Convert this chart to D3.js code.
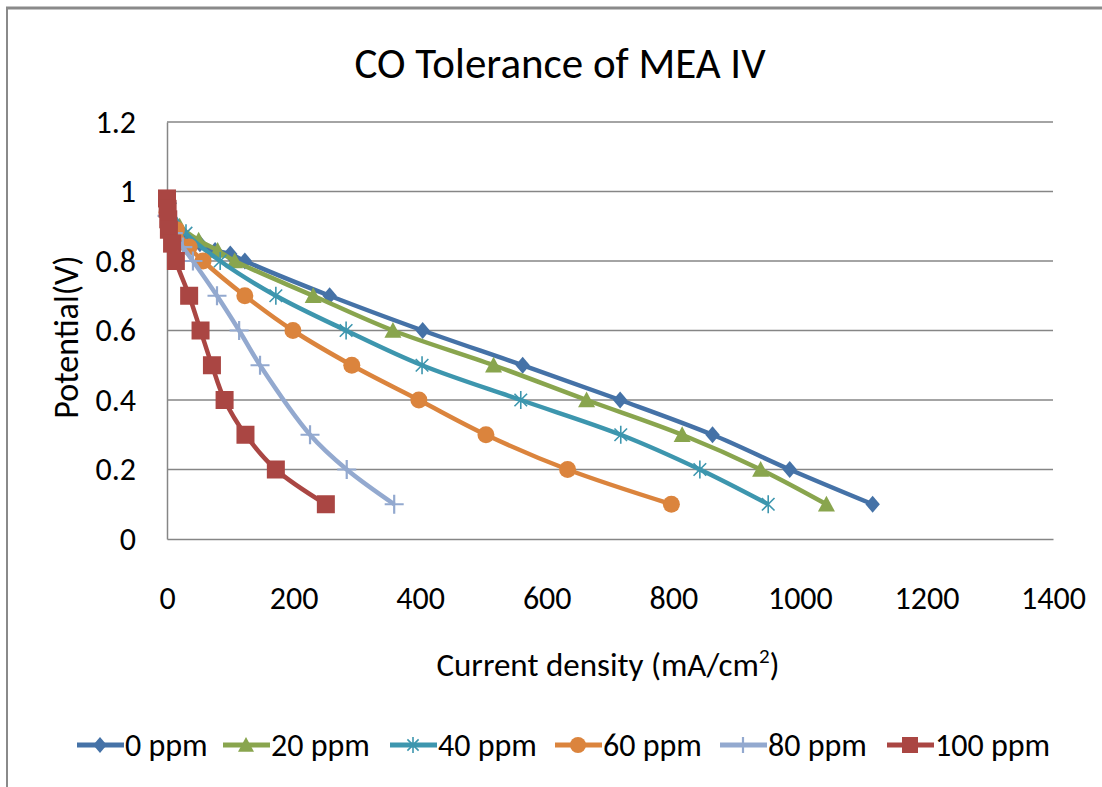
<!DOCTYPE html>
<html>
<head>
<meta charset="utf-8">
<script src="https://cdn.jsdelivr.net/npm/d3@7"></script>
<style>
  html, body { margin: 0; padding: 0; background: #fff; }
  svg text { font-family: Carlito, Lato, sans-serif; fill: #000; }
</style>
</head>
<body>
<svg id="chart" width="1102" height="787"></svg>
<script>
// Values (x = current density mA/cm2, y = potential V)
const seriesNames = ['0 ppm', '20 ppm', '40 ppm', '60 ppm', '80 ppm', '100 ppm'];
const xTicks = [0, 200, 400, 600, 800, 1000, 1200, 1400];
const yTicks = [0, 0.2, 0.4, 0.6, 0.8, 1, 1.2];

const ppm0 = [[0, 0.96], [25, 0.87], [52, 0.85], [76, 0.83], [100, 0.82], [123, 0.8], [257, 0.7], [404, 0.6], [562, 0.5], [716, 0.4], [862, 0.3], [984, 0.2], [1115, 0.1]];
const ppm20 = [[0, 0.95], [20, 0.9], [50, 0.86], [80, 0.83], [107, 0.8], [231, 0.7], [357, 0.6], [516, 0.5], [663, 0.4], [814, 0.3], [938, 0.2], [1042, 0.1]];
const ppm40 = [[5, 0.95], [30, 0.88], [84, 0.8], [172, 0.7], [283, 0.6], [403, 0.5], [559, 0.4], [717, 0.3], [842, 0.2], [950, 0.1]];
const ppm60 = [[0, 0.94], [15, 0.89], [35, 0.84], [57, 0.8], [123, 0.7], [199, 0.6], [292, 0.5], [398, 0.4], [504, 0.3], [633, 0.2], [797, 0.1]];
const ppm80 = [[0, 0.93], [10, 0.88], [25, 0.84], [41, 0.8], [79, 0.7], [114, 0.6], [147, 0.5], [226, 0.3], [284, 0.2], [359, 0.1]];
const ppm100 = [[0, 0.98], [1, 0.95], [2, 0.92], [3, 0.89], [8, 0.85], [14, 0.8], [35, 0.7], [53, 0.6], [71, 0.5], [91, 0.4], [124, 0.3], [172, 0.2], [251, 0.1]];

const seriesData = [ppm0, ppm20, ppm40, ppm60, ppm80, ppm100];
const colors = ['#4572a7', '#89a54e', '#3d96ae', '#db843d', '#93a9cf', '#aa4643'];
const markers = ['diamond', 'triangle', 'asterisk', 'circle', 'cross', 'square'];

const svg = d3.select('#chart');

// chart border (only top and left edges are inside the picture)
svg.append('line').attr('x1', 6).attr('x2', 1102).attr('y1', 8).attr('y2', 8)
  .attr('stroke', '#8a8a8a').attr('stroke-width', 3);
svg.append('line').attr('x1', 7).attr('x2', 7).attr('y1', 7).attr('y2', 787)
  .attr('stroke', '#8a8a8a').attr('stroke-width', 2);

const plot = { left: 167, right: 1053, top: 122, bottom: 539 };

const x = d3.scaleLinear().domain([0, 1400]).range([plot.left, plot.right]);
const y = d3.scaleLinear().domain([0, 1.2]).range([plot.bottom, plot.top]);

// gridlines
svg.append('g')
  .selectAll('line')
  .data(yTicks.filter(d => d > 0))
  .join('line')
  .attr('x1', plot.left).attr('x2', plot.right)
  .attr('y1', d => y(d)).attr('y2', d => y(d))
  .attr('stroke', '#868686').attr('stroke-width', 1.5);

// axes
const yAxis = svg.append('g')
  .attr('transform', `translate(${plot.left},0)`)
  .call(d3.axisLeft(y).tickValues(yTicks).tickSize(0).tickPadding(31).tickFormat(d3.format('~g')));
const xAxis = svg.append('g')
  .attr('transform', `translate(0,${plot.bottom})`)
  .call(d3.axisBottom(x).tickValues(xTicks).tickSize(0).tickPadding(47).tickFormat(d3.format('d')));

[yAxis, xAxis].forEach(g => {
  g.select('.domain').attr('stroke', '#868686').attr('stroke-width', 1.5);
  g.selectAll('text').attr('font-size', 32).attr('font-family', null);
});

// axis titles
svg.append('text')
  .attr('x', 608).attr('y', 676)
  .attr('text-anchor', 'middle')
  .attr('font-size', 33)
  .text('Current density (mA/cm')
  .append('tspan').attr('font-size', 21).attr('dy', -13).text('2')
  .select(function () { return this.parentNode; })
  .append('tspan').attr('dy', 13).text(')');

svg.append('text')
  .attr('transform', 'translate(78,337) rotate(-90)')
  .attr('text-anchor', 'middle')
  .attr('font-size', 34)
  .text('Potential(V)');

// title
svg.append('text')
  .attr('x', 560).attr('y', 78)
  .attr('text-anchor', 'middle')
  .attr('font-size', 43)
  .text('CO Tolerance of MEA IV');

// marker drawing
function drawMarker(g, type, color, s) {
  const h = s / 2;
  if (type === 'diamond') {
    g.append('path').attr('d', `M0,${-h}L${h * 0.85},0L0,${h}L${-h * 0.85},0Z`).attr('fill', color);
  } else if (type === 'triangle') {
    g.append('path').attr('d', `M0,${-h}L${h},${h * 0.85}L${-h},${h * 0.85}Z`).attr('fill', color);
  } else if (type === 'circle') {
    g.append('circle').attr('r', h).attr('fill', color);
  } else if (type === 'square') {
    g.append('rect').attr('x', -h).attr('y', -h).attr('width', s).attr('height', s).attr('fill', color);
  } else if (type === 'cross') {
    g.append('path').attr('d', `M${-h},0H${h}M0,${-h}V${h}`).attr('stroke', color).attr('stroke-width', 2.2);
  } else if (type === 'asterisk') {
    const d = h * 0.7;
    g.append('path')
      .attr('d', `M0,${-h}V${h}M${-d},${-d}L${d},${d}M${-d},${d}L${d},${-d}`)
      .attr('stroke', color).attr('stroke-width', 1.6);
  }
}

const markerSize = [17, 17, 18, 17, 19, 18];

const line = d3.line()
  .x(d => x(d[0]))
  .y(d => y(d[1]))
  .curve(d3.curveCatmullRom.alpha(0.5));

const seriesG = svg.append('g')
  .selectAll('g')
  .data(seriesData)
  .join('g');

seriesG.each(function (data, i) {
  const g = d3.select(this);
  g.append('path')
    .attr('d', line(data))
    .attr('fill', 'none')
    .attr('stroke', colors[i])
    .attr('stroke-width', 4.5)
    .attr('stroke-linejoin', 'round');
  data.forEach(p => {
    const m = g.append('g').attr('transform', `translate(${x(p[0])},${y(p[1])})`);
    drawMarker(m, markers[i], colors[i], markerSize[i]);
  });
});

// legend
const legendX = [77, 223, 390, 555, 720, 887];
const legend = svg.append('g')
  .selectAll('g')
  .data(seriesNames)
  .join('g')
  .attr('transform', (d, i) => `translate(${legendX[i]},745)`);

legend.each(function (name, i) {
  const g = d3.select(this);
  g.append('line').attr('x1', 0).attr('x2', 47).attr('y1', 0).attr('y2', 0)
    .attr('stroke', colors[i]).attr('stroke-width', 5);
  const m = g.append('g').attr('transform', 'translate(23,0)');
  drawMarker(m, markers[i], colors[i], 16);
  g.append('text').attr('x', 48).attr('y', 11).attr('font-size', 32).text(name);
});
</script>
</body>
</html>
